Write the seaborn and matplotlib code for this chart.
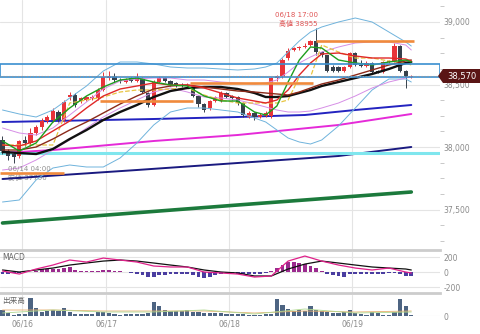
import numpy as np
import matplotlib
matplotlib.use("Agg")
import matplotlib.pyplot as plt
import seaborn as sns
from matplotlib.patches import Polygon
from matplotlib.ticker import MultipleLocator

sns.set_theme(style="white")
plt.rcParams['font.family'] = ['DejaVu Sans', 'Noto Sans CJK JP']

# ---------------- data ----------------
opens = [38056, 37968, 37944, 37928, 38060, 38030, 38110, 38160, 38210, 38220,
         38280, 38220, 38400, 38420, 38370, 38380, 38390, 38390, 38460, 38550,
         38570, 38540, 38520, 38550, 38530, 38550, 38430, 38340, 38520, 38550,
         38530, 38510, 38500, 38490, 38470, 38410, 38345, 38310, 38370, 38370,
         38430, 38410, 38400, 38350, 38240, 38270, 38240, 38250, 38250, 38550,
         38560, 38710, 38780, 38790, 38800, 38820, 38850, 38760, 38735, 38640,
         38640, 38610, 38640, 38750, 38660, 38650, 38670, 38610, 38600, 38680,
         38690, 38810, 38610, 38560]
closes = [37968, 37928, 37920, 38048, 38030, 38110, 38160, 38210, 38240, 38290,
          38220, 38360, 38420, 38340, 38390, 38400, 38400, 38460, 38560, 38570,
          38540, 38530, 38540, 38530, 38560, 38440, 38340, 38520, 38550, 38530,
          38500, 38490, 38490, 38500, 38410, 38345, 38300, 38370, 38400, 38430,
          38400, 38390, 38350, 38260, 38270, 38240, 38255, 38270, 38550, 38565,
          38700, 38770, 38790, 38800, 38810, 38850, 38760, 38735, 38610, 38610,
          38610, 38640, 38750, 38660, 38650, 38670, 38600, 38600, 38680, 38690,
          38810, 38610, 38560, 38570]
highs = [38088, 37984, 37960, 38060, 38090, 38150, 38180, 38230, 38260, 38310,
         38300, 38380, 38440, 38430, 38400, 38410, 38420, 38470, 38600, 38610,
         38590, 38550, 38550, 38560, 38590, 38560, 38440, 38540, 38570, 38560,
         38540, 38520, 38510, 38510, 38480, 38420, 38350, 38380, 38410, 38450,
         38440, 38420, 38410, 38360, 38290, 38280, 38270, 38290, 38560, 38580,
         38710, 38790, 38800, 38810, 38830, 38860, 38955, 38770, 38740, 38660,
         38650, 38650, 38760, 38760, 38700, 38690, 38680, 38620, 38690, 38700,
         38830, 38820, 38620, 38580]
lows = [37944, 37896, 37872, 37912, 38010, 38010, 38100, 38140, 38190, 38200,
        38200, 38200, 38380, 38320, 38350, 38370, 38380, 38380, 38450, 38540,
        38520, 38510, 38510, 38520, 38520, 38430, 38320, 38330, 38510, 38520,
        38490, 38480, 38480, 38480, 38400, 38320, 38280, 38300, 38360, 38360,
        38390, 38380, 38340, 38240, 38230, 38220, 38230, 38240, 38230, 38530,
        38550, 38700, 38770, 38780, 38790, 38810, 38740, 38720, 38600, 38600,
        38600, 38600, 38630, 38650, 38640, 38640, 38590, 38590, 38590, 38670,
        38680, 38600, 38470, 38555]

volume = [600, 300, 100, 200, 200, 1800, 800, 400, 500, 600,
          500, 800, 400, 200, 200, 200, 200, 400, 400, 300,
          200, 150, 200, 200, 200, 250, 300, 1400, 1000, 600,
          500, 500, 500, 600, 400, 400, 300, 300, 300, 300,
          200, 200, 200, 200, 150, 150, 100, 200, 200, 1700,
          1100, 700, 500, 600, 500, 1000, 600, 500, 400, 300,
          300, 400, 600, 300, 200, 150, 400, 300, 100, 100,
          400, 1700, 1000, 150]

macd_hist = [-20, -20, -15, -10, -5, 0, 10, 40, 40, 40,
             35, 50, 65, 25, 15, 12, 12, 15, 25, 30,
             15, 8, 3, -10, -20, -35, -70, -60, -45, -35,
             -30, -30, -30, -30, -45, -65, -80, -60, -35, -20,
             -15, -15, -20, -25, -30, -30, -25, -15, 10, 50,
             100, 130, 135, 125, 110, 80, 50, 10, -20, -45,
             -55, -60, -30, -30, -30, -30, -30, -25, -20, -15,
             -10, -25, -50, -50]

# line samples (candle index)
line_idx = [0, 3, 6, 9, 12, 15, 18, 21, 24, 27, 30, 33, 36, 39, 42, 45, 47, 49,
            51, 53, 55, 57, 60, 63, 66, 69, 72, 73]
ema_short = [38048, 37968, 38032, 38200, 38312, 38408, 38480, 38536, 38552, 38520,
             38496, 38488, 38408, 38368, 38368, 38280, 38256, 38328, 38520, 38696,
             38800, 38792, 38696, 38672, 38656, 38680, 38696, 38680]
ema_mid = [38016, 38008, 38048, 38128, 38208, 38312, 38408, 38464, 38488, 38512,
           38496, 38496, 38472, 38432, 38392, 38368, 38352, 38376, 38456, 38576,
           38672, 38744, 38752, 38728, 38712, 38712, 38704, 38688]
sma_mid = [37976, 37976, 38000, 38064, 38136, 38200, 38272, 38344, 38408, 38464,
           38488, 38496, 38480, 38464, 38448, 38440, 38432, 38424, 38416, 38440,
           38472, 38504, 38536, 38576, 38616, 38656, 38688, 38696]
sma_long = [37960, 37952, 37944, 37984, 38064, 38136, 38216, 38280, 38336, 38400,
            38448, 38472, 38480, 38480, 38464, 38432, 38400, 38400, 38408, 38432,
            38456, 38488, 38520, 38552, 38584, 38624, 38672, 38680]
bb_upper2 = [38296, 38264, 38240, 38296, 38392, 38488, 38608, 38680, 38680, 38664,
             38640, 38632, 38632, 38624, 38616, 38624, 38640, 38672, 38760, 38848,
             38920, 38960, 39000, 39032, 39000, 38920, 38840, 38808]
bb_lower2 = [37560, 37576, 37736, 37832, 37856, 37840, 37840, 37912, 38032, 38176,
             38280, 38312, 38312, 38296, 38280, 38232, 38200, 38136, 38072, 38040,
             38024, 38056, 38168, 38312, 38456, 38544, 38544, 38520]
bb_upper1 = [38152, 38112, 38096, 38152, 38256, 38360, 38464, 38528, 38544, 38552,
             38552, 38536, 38536, 38520, 38512, 38504, 38512, 38536, 38600, 38672,
             38720, 38760, 38800, 38832, 38840, 38840, 38816, 38776]
bb_lower1 = [37816, 37832, 37896, 37976, 38056, 38152, 38240, 38312, 38376, 38440,
             38472, 38440, 38400, 38392, 38376, 38344, 38320, 38296, 38280, 38280,
             38288, 38312, 38352, 38408, 38472, 38520, 38552, 38560]
base_line = [38016, 38016, 38016, 38016, 38352, 38376, 38400, 38440, 38456, 38456,
             38464, 38472, 38416, 38376, 38352, 38352, 38352, 38352, 38376, 38560,
             38560, 38816, 38760, 38712, 38712, 38688, 38672, 38656]

navy_idx = [0, 24, 42, 60, 73]
navy_ma = [37744, 37816, 37872, 37928, 38000]
mag_idx = [0, 9, 27, 42, 60, 73]
mag_ma = [37952, 37976, 38048, 38096, 38176, 38264]
blue_idx = [0, 27, 42, 54, 63, 73]
blue_ma = [38200, 38224, 38240, 38256, 38296, 38336]
dgreen_idx = [0, 21, 42, 73]
dgreen_ma = [37392, 37464, 37536, 37640]
cyan_level = 37952

seg_start = [-0.5, 17.5, 33.5, 56.0]
seg_end = [11.0, 34.0, 55.5, 73.5]
seg_price = [37792, 38368, 38512, 38848]

box_low, box_high = 38560, 38664
last_price = 38570
high_price = 38955

macd_idx = [0, 3, 6, 9, 12, 15, 18, 21, 24, 27, 30, 33, 36, 39, 42, 45, 48, 51,
            54, 57, 60, 63, 66, 69, 72, 73]
macd_line = [13, -27, 40, 93, 160, 133, 186, 160, 133, 80, 67, 67, 0, -13, -27,
             -67, -53, 146, 213, 146, 93, 53, 27, 53, 0, -13]
macd_signal = [27, 0, 27, 53, 93, 120, 146, 160, 146, 120, 93, 67, 27, 0, -13,
               -53, -53, 40, 106, 146, 120, 93, 67, 53, 40, 27]

vol_ma_idx = [0, 9, 18, 27, 36, 45, 54, 63, 73]
vol_ma1 = [600, 600, 500, 500, 500, 300, 500, 400, 500]
vol_ma2 = [300, 600, 400, 400, 600, 200, 700, 300, 400]

date_pos = [3.5, 18.5, 40.5, 62.5]
date_labels = ["06/16", "06/17", "06/18", "06/19"]

# ---------------- layout ----------------
W, H = 480, 334
fig = plt.figure(figsize=(W / 100, H / 100), dpi=100)


def rect(top, bottom, left=0, right=440):
    return [left / W, 1 - bottom / H, (right - left) / W, (bottom - top) / H]


ax = fig.add_axes(rect(0, 250))
axm = fig.add_axes(rect(252, 293), sharex=ax)
axv = fig.add_axes(rect(295, 316), sharex=ax)

RED = '#e8343a'
DARK = '#36414c'
GRID = '#e4e4e4'
TICK = '#8a8a8a'

for a in (ax, axm, axv):
    a.set_facecolor('white')
    for s in a.spines.values():
        s.set_visible(False)
    for p in date_pos:
        a.axvline(p, color=GRID, lw=0.8, zorder=0)

# ---------------- main price panel ----------------
idx = np.arange(len(opens))
o = np.array(opens); c = np.array(closes)
col = np.where(c >= o, RED, DARK)
body_lo = np.minimum(o, c)
body_h = np.maximum(np.abs(c - o), 8)
ax.vlines(idx, lows, highs, colors=col, lw=0.7, zorder=3)
ax.bar(idx, body_h, bottom=body_lo, width=0.72, color=col, lw=0, zorder=3)

def line(a, x, y, color, lw, ls='-', z=4):
    sns.lineplot(x=x, y=y, ax=a, color=color, lw=lw, ls=ls, zorder=z,
                 estimator=None, sort=False, legend=False)

line(ax, dgreen_idx, dgreen_ma, '#1c7a3c', 2.6, z=2)
line(ax, navy_idx, navy_ma, '#1a1a80', 1.4, z=2)
line(ax, mag_idx, mag_ma, '#e52ad8', 1.4, z=2)
line(ax, blue_idx, blue_ma, '#2323c0', 1.4, z=2)
ax.axhline(cyan_level, color='#7fe6ee', lw=2.2, zorder=2)

line(ax, line_idx, bb_upper2, '#6fb3dc', 0.7)
line(ax, line_idx, bb_lower2, '#6fb3dc', 0.7)
line(ax, line_idx, bb_upper1, '#d68ee6', 0.7)
line(ax, line_idx, bb_lower1, '#d68ee6', 0.7)
line(ax, line_idx, base_line, '#e8c440', 0.9, ls='--')
line(ax, line_idx, sma_long, '#111111', 1.7)
line(ax, line_idx, sma_mid, '#8b2a1a', 1.0)
line(ax, line_idx, ema_mid, '#e02828', 1.0)
line(ax, line_idx, ema_short, '#1e9e1e', 1.0)

ax.hlines(seg_price, seg_start, seg_end, colors='#f08a3c', lw=1.9, zorder=5)

ax.axhspan(box_low, box_high, fill=False, ec='#3a8fd0', lw=1.2, zorder=6)
ax.axhline(last_price, color='#999999', lw=0.8, ls=':', zorder=6)

ax.set_xlim(-0.446, 78.125)
ax.set_ylim(37176, 39176)
ax.yaxis.tick_right()
yt = [37500, 38000, 38500, 39000]
ax.set_yticks(yt)
ax.set_yticklabels([f"{v:,}" for v in yt])
ax.yaxis.set_minor_locator(MultipleLocator(125))
ax.tick_params(axis='y', which='major', length=0, pad=2.5, labelsize=5.5, labelcolor=TICK)
ax.tick_params(axis='y', which='minor', length=3, width=0.7, color='#c8c8c8', direction='out', right=True)
ax.grid(axis='y', which='major', color=GRID, lw=0.8, zorder=0)
ax.tick_params(axis='x', labelbottom=False, length=0)
ax.spines['bottom'].set_visible(True)
ax.spines['bottom'].set_color('#cccccc')
ax.spines['bottom'].set_linewidth(2)

ax.text(56.3, 39056, "06/18 17:00", ha='right', va='center', fontsize=5, color='#e05555', zorder=7)
ax.text(56.3, 38992, "高値 38955", ha='right', va='center', fontsize=5, color='#e05555', zorder=7)
ax.text(1.0, 37824, "06/14 04:00", ha='left', va='center', fontsize=5, color='#909090', zorder=7)
ax.text(1.0, 37760, "安値 37790", ha='left', va='center', fontsize=5, color='#909090', zorder=1)

# current price tag
def fx(px): return px / W
def fy(py): return 1 - py / H
tag = Polygon([(fx(438), fy(76)), (fx(443), fy(69)), (fx(480), fy(69)),
               (fx(480), fy(83)), (fx(443), fy(83))], closed=True,
              transform=fig.transFigure, fc='#5a1515', ec='none', zorder=10)
fig.patches.append(tag)
fig.text(fx(462), fy(76), f"{last_price:,}", ha='center', va='center', fontsize=6,
         color='white', zorder=11)

# ---------------- MACD panel ----------------
mh = np.array(macd_hist)
axm.bar(idx, mh, width=0.7, color=np.where(mh >= 0, '#9b2a8e', '#4a3da0'), lw=0, zorder=2)
line(axm, macd_idx, macd_signal, '#111111', 0.9)
line(axm, macd_idx, macd_line, '#e0208a', 0.9)
axm.set_ylim(-280, 267)
axm.yaxis.tick_right()
axm.set_yticks([-200, 0, 200])
axm.set_yticklabels(['-200', '0', '200'])
axm.tick_params(axis='y', length=0, pad=2.5, labelsize=5.5, labelcolor=TICK)
axm.grid(axis='y', color=GRID, lw=0.8, zorder=0)
axm.tick_params(axis='x', labelbottom=False, length=0)
axm.spines['bottom'].set_visible(True)
axm.spines['bottom'].set_color('#cccccc')
axm.spines['bottom'].set_linewidth(2)
fig.text(fx(2), fy(258), "MACD", fontsize=5.5, color='#666666', va='center', ha='left')

# ---------------- volume panel ----------------
axv.bar(idx, volume, width=0.72, color='#4d6482', lw=0, zorder=2)
line(axv, vol_ma_idx, vol_ma1, '#e8b070', 0.6, z=3)
line(axv, vol_ma_idx, vol_ma2, '#b0d890', 0.6, z=3)
axv.set_ylim(0, 2100)
axv.yaxis.tick_right()
axv.set_yticks([0])
axv.set_yticklabels(['0'])
axv.tick_params(axis='y', length=0, pad=2.5, labelsize=5.5, labelcolor=TICK)
axv.grid(axis='y', color=GRID, lw=0.8, zorder=0)
axv.set_xticks(date_pos)
axv.set_xticklabels(date_labels)
axv.tick_params(axis='x', length=0, pad=2.5, labelsize=5.5, labelcolor=TICK)
fig.text(fx(2), fy(301), "出来高", fontsize=5.5, color='#666666', va='center', ha='left')

fig.savefig("out.png", dpi=100, facecolor='white')
